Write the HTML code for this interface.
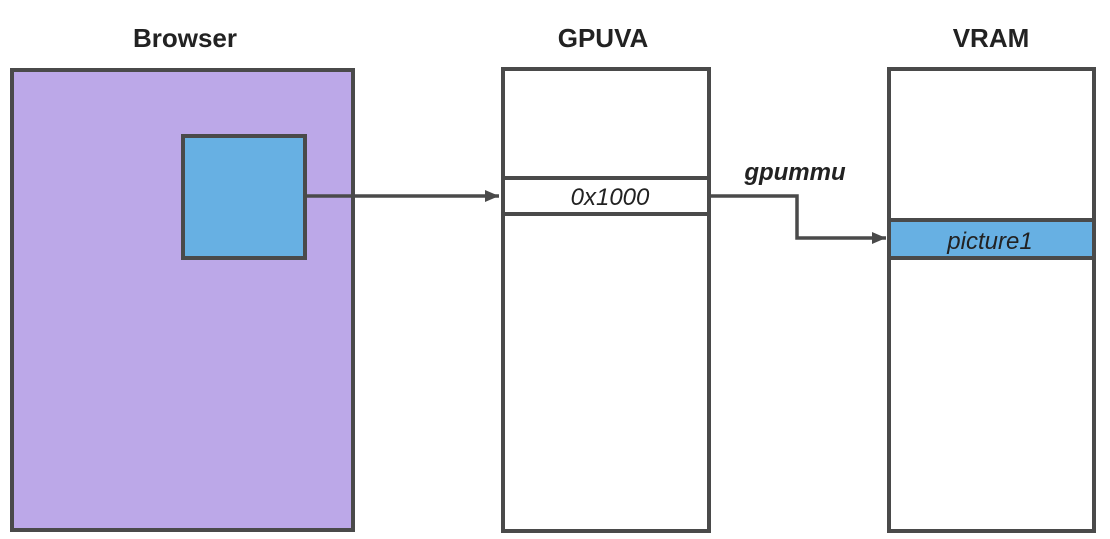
<!DOCTYPE html>
<html><head><meta charset="utf-8"><style>
html,body{margin:0;padding:0;background:#fff;width:1110px;height:539px;overflow:hidden}
</style></head><body>
<svg width="1110" height="539" xmlns="http://www.w3.org/2000/svg" font-family="'Liberation Sans', sans-serif">
<defs><marker id="ah" markerWidth="16" markerHeight="14" refX="14" refY="6" orient="auto" markerUnits="userSpaceOnUse"><path d="M0,0 L14,6 L0,12 Z" fill="#4a4a4a"/></marker></defs>
<g stroke="#4a4a4a" stroke-width="4" fill="none">
<rect x="12" y="70" width="341" height="460" fill="#bca8e8"/>
<rect x="183" y="136" width="122" height="122" fill="#67b0e3"/>
<rect x="503" y="69" width="206" height="462" fill="#fff"/>
<rect x="503" y="178" width="206" height="36" fill="#fff"/>
<rect x="889" y="69" width="205" height="462" fill="#fff"/>
<rect x="889" y="220" width="205" height="38" fill="#67b0e3"/>
<path d="M306,196 L499,196" stroke-width="3.5" marker-end="url(#ah)"/>
<path d="M710,196 L797,196 L797,238 L886,238" stroke-width="3.5" marker-end="url(#ah)"/>
</g>
<g fill="#222" font-weight="bold" font-size="26" text-anchor="middle">
<text x="185" y="47">Browser</text>
<text x="603" y="47">GPUVA</text>
<text x="991" y="47">VRAM</text>
<text x="795" y="180" font-style="italic" font-size="24">gpummu</text>
</g>
<g fill="#222" font-style="italic" font-size="24" text-anchor="middle">
<text x="610" y="205">0x1000</text>
<text x="990" y="249">picture1</text>
</g>
</svg>
</body></html>
